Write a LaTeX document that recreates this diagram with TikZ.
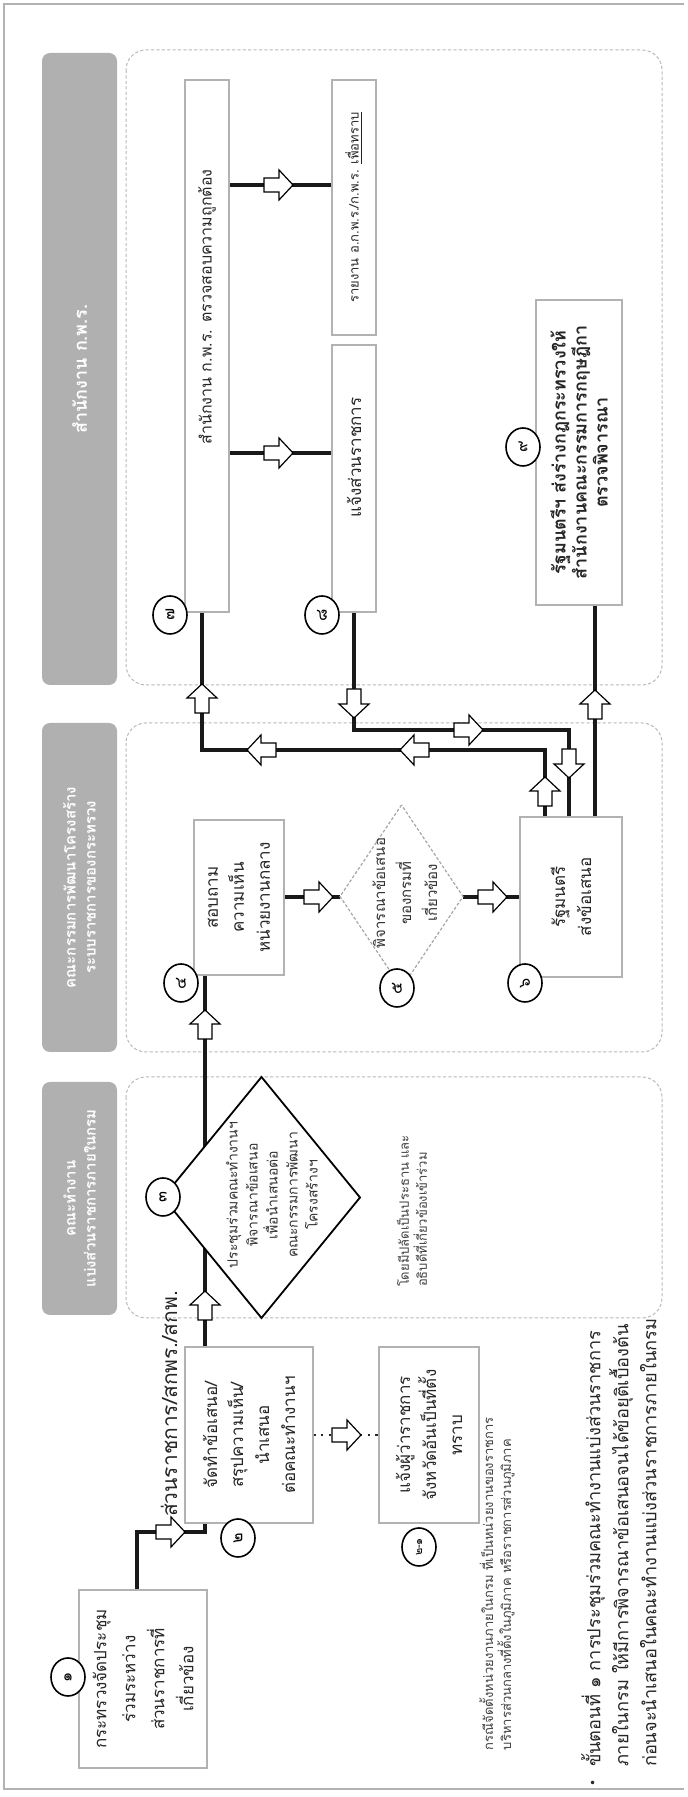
\documentclass[tikz,border=0pt]{standalone}
\usepackage{fontspec}
\setmainfont[Script=Thai]{Loma}
\newfontfamily\dejavu{DejaVu Sans}
\usetikzlibrary{shapes.geometric}
\begin{document}
\begin{tikzpicture}[x=0.5pt,y=-0.5pt,
  every node/.style={inner sep=0pt, outer sep=0pt},
  box/.style={draw=gray!60, line width=0.6pt, fill=white, align=center, text=black!85,
              font=\fontsize{8.5}{13}\selectfont},
  hdr/.style={fill=gray!62, rounded corners=4pt, text=white, align=center,
              minimum height=37.5pt, font=\fontsize{7.5}{10}\selectfont\bfseries},
  lane/.style={draw=gray!55, dash pattern=on 1.6pt off 1.1pt, line width=0.5pt,
              rounded corners=10pt, minimum height=268pt},
  num/.style={ellipse, draw=black, fill=white, line width=0.8pt, minimum width=19pt,
              minimum height=17pt, font=\fontsize{8}{8}\selectfont},
  wire/.style={line width=1.7pt, black!90},
  note/.style={align=left, text=black!75, font=\fontsize{6.5}{9}\selectfont},
  harrR/.pic={\draw[fill=white, line width=0.6pt, line join=miter]
     (-14,-7) -- (1,-7) -- (1,-15) -- (15,0) -- (1,15) -- (1,7) -- (-14,7) -- cycle;},
  harrL/.pic={\draw[fill=white, line width=0.6pt, line join=miter]
     (14,-7) -- (-1,-7) -- (-1,-15) -- (-15,0) -- (-1,15) -- (-1,7) -- (14,7) -- cycle;},
  harrD/.pic={\draw[fill=white, line width=0.6pt, line join=miter]
     (-7,-14) -- (-7,1) -- (-15,1) -- (0,15) -- (15,1) -- (7,1) -- (7,-14) -- cycle;},
  harrU/.pic={\draw[fill=white, line width=0.6pt, line join=miter]
     (-7,14) -- (-7,-1) -- (-15,-1) -- (0,-15) -- (15,-1) -- (7,-1) -- (7,14) -- cycle;}
]
\begin{scope}[rotate=90, transform shape]
\fill[white] (0,0) rectangle (1797,688);
\useasboundingbox (0,0) rectangle (1797,688);
% frame
\draw[gray!60, line width=0.6pt] (8,684) -- (8,4) -- (1793,4) -- (1793,684);

% headers
\node[hdr, minimum width=116.5pt] (h1) at (598.5,79.5) {คณะทำงาน\\แบ่งส่วนราชการภายในกรม};
\node[hdr, minimum width=164.5pt] (h2) at (909.5,79.5) {คณะกรรมการพัฒนาโครงสร้าง\\ระบบราชการของกระทรวง};
\node[hdr, minimum width=316pt, font=\fontsize{9}{11}\selectfont\bfseries] (h3) at (1428,79.5) {สำนักงาน ก.พ.ร.};

% lanes
\node[lane, minimum width=120.5pt] (l1) at (599.5,394) {};
\node[lane, minimum width=164.5pt] (l2) at (909.5,394) {};
\node[lane, minimum width=317.5pt] (l3) at (1429.5,394) {};

% connector end points
\coordinate (m1) at (450,205);  \coordinate (m2) at (822,205);
\coordinate (p1) at (207,137);  \coordinate (p2) at (265,137);
\coordinate (p3) at (265,205);  \coordinate (p4) at (274,205);
\coordinate (q1) at (362,313);  \coordinate (q2) at (362,379);
\coordinate (r1) at (900,284);  \coordinate (r2) at (900,340);
\coordinate (r3) at (900,463);  \coordinate (r4) at (900,520);
\coordinate (s1) at (1612,229); \coordinate (s2) at (1612,332);
\coordinate (s3) at (1344,229); \coordinate (s4) at (1344,331);
\coordinate (a1) at (980,545);  \coordinate (a2) at (1047,545);
\coordinate (a3) at (1047,202); \coordinate (a4) at (1185,202);
\coordinate (b1p) at (1185,354); \coordinate (b2p) at (1067,354);
\coordinate (b3p) at (1067,569); \coordinate (b4p) at (980,569);
\coordinate (c1) at (980,595);  \coordinate (c2) at (1192,595);

% wires
\draw[wire] (m1) -- (m2);
\draw[wire] (p1) -- (p2) -- (p3) -- (p4);
\draw[line width=1.3pt, black!85, dash pattern=on 1.3pt off 2.6pt] (q1) -- (q2);
\draw[wire] (r1) -- (r2);
\draw[wire] (r3) -- (r4);
\draw[wire] (s1) -- (s2);
\draw[wire] (s3) -- (s4);
\draw[wire] (a1) -- (a2) -- (a3) -- (a4);
\draw[wire] (b1p) -- (b2p) -- (b3p) -- (b4p);
\draw[wire] (c1) -- (c2);

% boxes
\node[box, minimum width=89pt, minimum height=64pt, font=\fontsize{8.5}{14.5}\selectfont] (b1) at (118,143) {กระทรวงจัดประชุม\\ร่วมระหว่าง\\ส่วนราชการที่\\เกี่ยวข้อง};
\node[box, minimum width=88pt, minimum height=64pt] (b2) at (362,249) {จัดทำข้อเสนอ/\\สรุปความเห็น/\\นำเสนอ\\ต่อคณะทำงานฯ};
\node[box, minimum width=88pt, minimum height=50pt] (b21) at (362,429) {แจ้งผู้ว่าราชการ\\จังหวัดอันเป็นที่ตั้ง\\ทราบ};
\node[box, minimum width=77.5pt, minimum height=45pt] (b4) at (899.5,239) {สอบถาม\\ความเห็น\\หน่วยงานกลาง};
\node[box, minimum width=80pt, minimum height=51pt] (b6) at (900,571) {รัฐมนตรี\\ส่งข้อเสนอ};
\node[box, minimum width=266pt, minimum height=22pt, font=\fontsize{8}{10}\selectfont] (b7) at (1451,207) {\hspace*{39pt}สำนักงาน ก.พ.ร. ตรวจสอบความถูกต้อง};
\node[box, minimum width=127.5pt, minimum height=22pt, font=\fontsize{6.5}{8}\selectfont] (brep) at (1589.5,354) {รายงาน อ.ก.พ.ร./ก.พ.ร. \underline{เพื่อทราบ}};
\node[box, minimum width=133.5pt, minimum height=22pt] (b8) at (1318.5,354) {\hspace*{21pt}แจ้งส่วนราชการ};
\node[box, minimum width=152.5pt, minimum height=43pt, font=\fontsize{9}{10.5}\selectfont\bfseries] (b9) at (1344.5,579) {รัฐมนตรีฯ ส่งร่างกฎกระทรวงให้\\สำนักงานคณะกรรมการกฤษฎีกา\\ตรวจพิจารณา};

% diamonds
\node[diamond, draw=black, line width=0.9pt, fill=white, minimum width=120.5pt, minimum height=98.5pt] (d3) at (599.5,261.5) {};
\node[align=center, text=black!80, font=\fontsize{7}{10}\selectfont] (d3t) at (602,272) {ประชุมร่วมคณะทำงานฯ\\พิจารณาข้อเสนอ\\เพื่อนำเสนอต่อ\\คณะกรรมการพัฒนา\\โครงสร้างฯ};
\node[diamond, draw=gray!70, dash pattern=on 1.5pt off 1pt, line width=0.6pt, fill=white, minimum width=91.5pt, minimum height=61.5pt] (d5) at (900.5,401.5) {};
\node[align=center, text=black!80, font=\fontsize{7.5}{13}\selectfont] (d5t) at (904,405) {พิจารณาข้อเสนอ\\ของกรมที่\\เกี่ยวข้อง};

% hollow arrows on connectors
\pic at (491,205) {harrR};
\pic at (772,205) {harrR};
\pic at (265,170) {harrD};
\pic at (362,346) {harrD};
\pic at (900,318) {harrD};
\pic at (900,492) {harrD};
\pic at (1612,278) {harrD};
\pic at (1344,278) {harrD};
\pic at (1005,545) {harrR};
\pic at (1047,415) {harrU};
\pic at (1047,262) {harrU};
\pic at (1098,202) {harrR};
\pic at (1094,354) {harrL};
\pic at (1067,468) {harrD};
\pic at (1034,569) {harrL};
\pic at (1092,595) {harrR};

% numbered circles
\node[num] (n1) at (120,68) {๑};
\node[num] (n2) at (259,238) {๒};
\node[num, font=\fontsize{5.5}{6}\selectfont] (n21) at (250,419) {๒-๑};
\node[num] (n3) at (600,163) {๓};
\node[num] (n4) at (814,181) {๔};
\node[num] (n5) at (809,397) {๕};
\node[num] (n6) at (814,525) {๖};
\node[num] (n7) at (1182,170) {๗};
\node[num] (n8) at (1182,322) {๘};
\node[num] (n9) at (1350,523) {๙};

% labels and notes
\node[anchor=west, text=black!85, font=\fontsize{10.5}{10.5}\selectfont] (lbl) at (280,169) {ส่วนราชการ/สกพร./สกพ.};
\node[anchor=west, note] (nt3) at (510,412) {โดยมีปลัดเป็นประธาน และ\\อธิบดีที่เกี่ยวข้องเข้าร่วม};
\node[anchor=west, note] (nt21) at (47,497) {กรณีจัดตั้งหน่วยงานภายในกรม ที่เป็นหน่วยงานของราชการ\\บริหารส่วนกลางที่ตั้งในภูมิภาค หรือราชการส่วนภูมิภาค};
\node[text=black!85, font=\dejavu\fontsize{6}{6}\selectfont] (bul) at (14,594) {•};
\node[anchor=north west, align=left, text=black!85, font=\fontsize{9.1}{14}\selectfont] (foot) at (30,581) {ขั้นตอนที่ ๑ การประชุมร่วมคณะทำงานแบ่งส่วนราชการ\\ภายในกรม ให้มีการพิจารณาข้อเสนอจนได้ข้อยุติเบื้องต้น\\ก่อนจะนำเสนอในคณะทำงานแบ่งส่วนราชการภายในกรม};
\end{scope}
\end{tikzpicture}
\end{document}
